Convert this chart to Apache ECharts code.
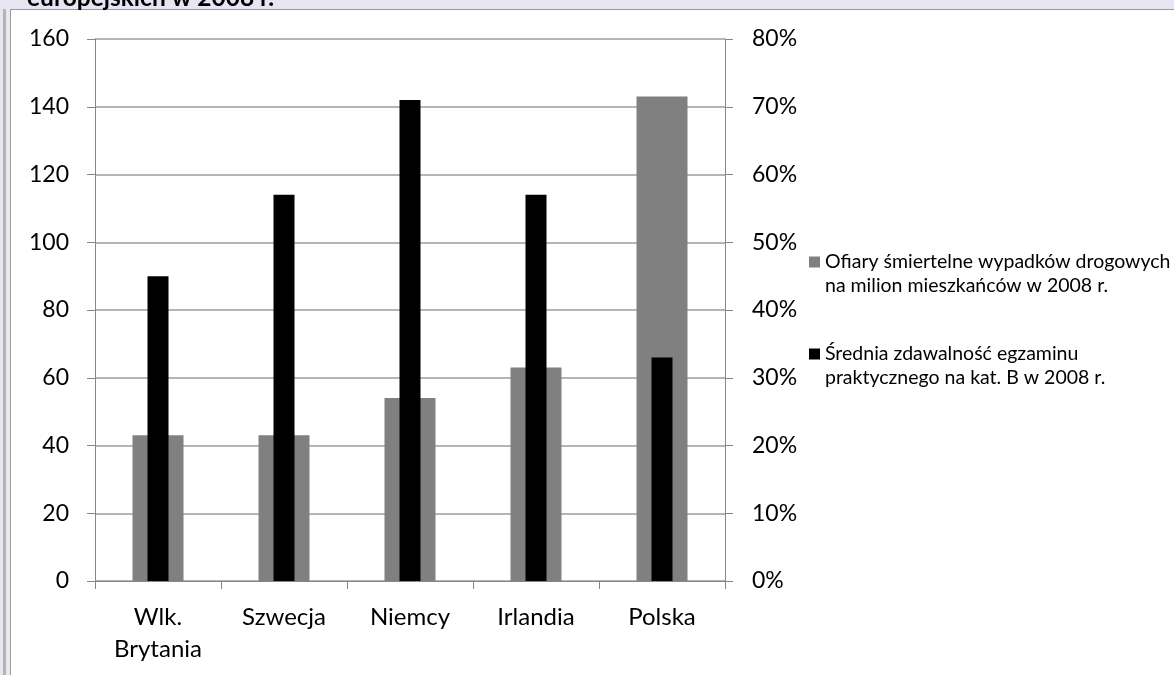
<!DOCTYPE html>
<html>
<head>
<meta charset="utf-8">
<script src="https://cdn.jsdelivr.net/npm/echarts@6/dist/echarts.min.js"></script>
<style>
html,body{margin:0;padding:0;background:#fff;}
#c{width:1174px;height:675px;}
</style>
</head>
<body>
<div id="c"></div>
<script>
const categories = ['Wlk.\nBrytania', 'Szwecja', 'Niemcy', 'Irlandia', 'Polska'];
const fatalities = [43, 43, 54, 63, 143];
const passRate = [0.45, 0.57, 0.71, 0.57, 0.33];
const seriesNames = ['Ofiary śmiertelne wypadków drogowych\nna milion mieszkańców w 2008 r.', 'Średnia zdawalność egzaminu\npraktycznego na kat. B w 2008 r.'];
const titleText = 'europejskich w 2008 r.';

const FONT = 'Lato, "Liberation Sans", sans-serif';
const chart = echarts.init(document.getElementById('c'), null, {renderer: 'canvas'});
chart.setOption({
  backgroundColor: '#ffffff',
  animation: false,
  graphic: [
    {type: 'rect', left: 0, top: 0, shape: {width: 1174, height: 9}, style: {fill: '#e6e6f2'}, z: -10},
    {type: 'rect', left: 0, top: 0, shape: {width: 3, height: 675}, style: {fill: '#e6e6f2'}, z: -10},
    {type: 'rect', left: 3, top: 9, shape: {width: 3, height: 666}, style: {fill: '#b4b4b4'}, z: -10},
    {type: 'rect', left: 6, top: 9, shape: {width: 4, height: 666}, style: {fill: '#e8e8ee'}, z: -10},
    {type: 'rect', left: 10, top: 9, shape: {width: 1164, height: 1}, style: {fill: '#9a9a9a'}, z: -10},
    {type: 'rect', left: 10, top: 10, shape: {width: 1, height: 665}, style: {fill: '#9a9a9a'}, z: -10}
  ],
  title: {
    text: titleText,
    left: 22,
    top: -19,
    textStyle: {fontFamily: FONT, fontWeight: 'bold', fontSize: 24.5, color: '#000'}
  },
  legend: {
    orient: 'vertical',
    left: 804,
    top: 221,
    itemWidth: 11,
    itemHeight: 11,
    itemGap: 20,
    icon: 'rect',
    formatter: function (name) { return '\u00a0\n' + name; },
    textStyle: {fontFamily: FONT, fontSize: 19.5, color: '#000', lineHeight: 24},
    data: seriesNames
  },
  grid: {left: 95, right: 449, top: 39, bottom: 94},
  xAxis: [
    {
      type: 'category', data: categories, position: 'bottom',
      axisLine: {lineStyle: {color: '#868686', width: 1}},
      axisTick: {show: true, alignWithLabel: false, length: 8, lineStyle: {color: '#868686'}},
      axisLabel: {fontFamily: FONT, fontSize: 24, color: '#000', margin: 20, lineHeight: 32, interval: 0},
      splitLine: {show: false}
    },
    {
      type: 'category', data: categories, show: false
    }
  ],
  yAxis: [
    {
      type: 'value', min: 0, max: 160, interval: 20, position: 'left',
      axisLine: {show: true, lineStyle: {color: '#868686'}},
      axisTick: {show: true, length: 8, lineStyle: {color: '#868686'}},
      axisLabel: {fontFamily: FONT, fontSize: 23, color: '#000', margin: 26},
      splitLine: {show: true, lineStyle: {color: '#9c9c9c', width: 1.5}}
    },
    {
      type: 'value', min: 0, max: 0.8, interval: 0.1, position: 'right',
      axisLine: {show: true, lineStyle: {color: '#868686'}},
      axisTick: {show: true, length: 8, lineStyle: {color: '#868686'}},
      axisLabel: {fontFamily: FONT, fontSize: 23, color: '#000', margin: 27,
        formatter: function (v) { return Math.round(v * 100) + '%'; }},
      splitLine: {show: false}
    }
  ],
  series: [
    {
      name: seriesNames[0], type: 'bar', xAxisIndex: 0, yAxisIndex: 0,
      data: fatalities, barWidth: 51, itemStyle: {color: '#808080'}, z: 2
    },
    {
      name: seriesNames[1], type: 'bar', xAxisIndex: 1, yAxisIndex: 1,
      data: passRate, barWidth: 21, itemStyle: {color: '#000000'}, z: 3
    }
  ]
});
</script>
</body>
</html>
